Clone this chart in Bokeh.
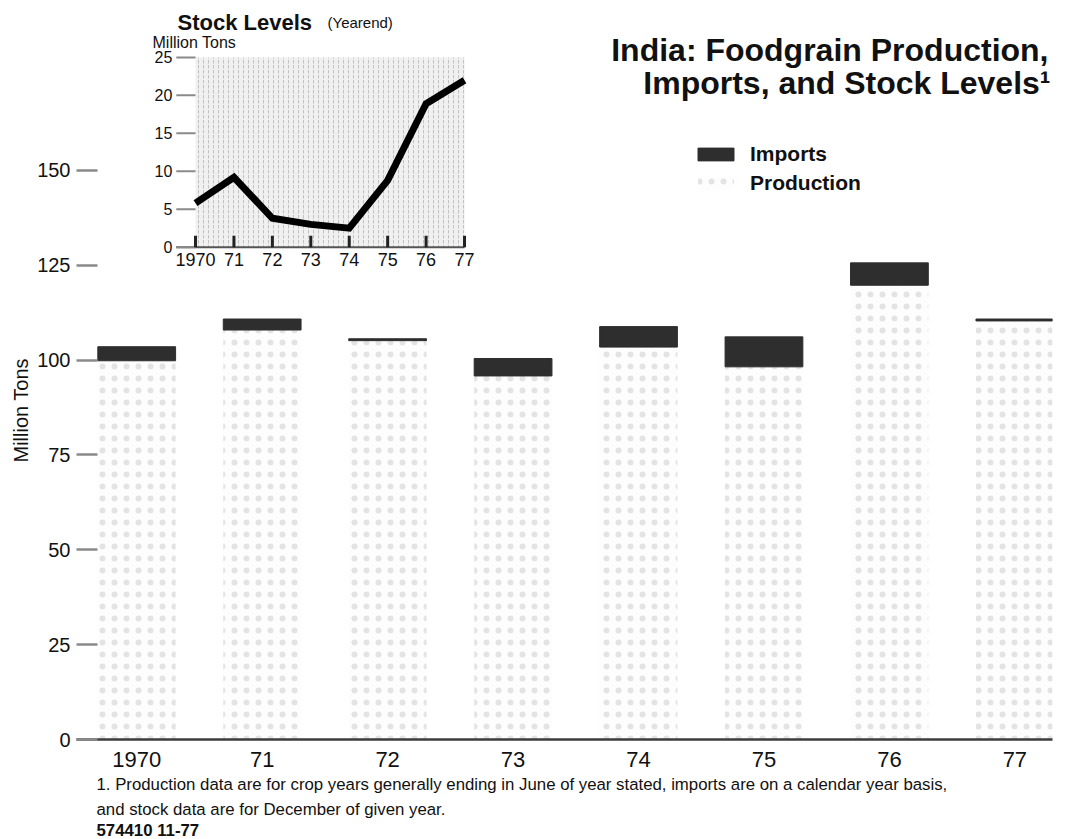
from bokeh.plotting import figure
from bokeh.models import (Range1d, FixedTicker, Label, Legend, LegendItem, Title,
                          ColumnDataSource)
from bokeh.core.properties import value
from bokeh.embed import file_html
from bokeh.resources import INLINE

# ---------------- data ----------------
years = [1970, 1971, 1972, 1973, 1974, 1975, 1976, 1977]
year_labels = ["1970", "71", "72", "73", "74", "75", "76", "77"]
production = [99.8, 107.9, 105.1, 95.8, 103.4, 98.2, 119.7, 110.3]
imports = [3.7, 2.9, 0.5, 4.6, 5.4, 7.9, 5.9, 0.5]
main_ticks = [0, 25, 50, 75, 100, 125, 150]

stock = [5.8, 9.2, 3.8, 3.0, 2.5, 8.8, 18.9, 22.0]
stock_ticks = [0, 5, 10, 15, 20, 25]

footnotes = [
    "1. Production data are for crop years generally ending in June of year stated, imports are on a calendar year basis,",
    "and stock data are for December of given year.",
    "574410  11-77",
]

FONT = "Liberation Sans"
INK = "#111111"

X0, X1 = 1969.52, 1977.30
p = figure(width=1065, height=839, output_backend="svg", toolbar_location=None,
           x_range=Range1d(X0, X1), y_range=Range1d(0, 192.1),
           min_border_left=76, min_border_right=13, min_border_top=10,
           min_border_bottom=99)
p.outline_line_color = None
p.grid.visible = False
p.background_fill_color = "white"
p.border_fill_color = "white"

# inset coordinate system (stock levels) inside the same frame
p.extra_x_ranges = {"ix": Range1d(1966.903, 1992.30)}
p.extra_y_ranges = {"iy": Range1d(-64.87, 31.18)}

# ---------------- axes ----------------
xa = p.xaxis[0]
xa.ticker = FixedTicker(ticks=years)
xa.major_label_overrides = {y: l for y, l in zip(years, year_labels)}
xa.axis_line_color = "#3c3c3c"
xa.axis_line_width = 2.5
xa.major_tick_line_color = None
xa.minor_tick_line_color = None
xa.major_label_standoff = 6
xa.major_label_text_font = FONT
xa.major_label_text_font_size = "22px"
xa.major_label_text_color = INK

ya = p.yaxis[0]
ya.ticker = FixedTicker(ticks=main_ticks)
ya.axis_line_color = None
ya.major_tick_in = 21
ya.major_tick_out = 0
ya.major_tick_line_color = "#8a8a8a"
ya.major_tick_line_width = 2.5
ya.minor_tick_line_color = None
ya.major_label_standoff = 6
ya.major_label_text_font = FONT
ya.major_label_text_font_size = "20px"
ya.major_label_text_color = INK

# y axis title (vertical), offset along the axis as in the reference
p.add_layout(Title(text="Million Tons", align="left", offset=277, standoff=6,
                   text_font=FONT, text_font_size="20px", text_font_style="normal",
                   text_color=INK), "left")

# ---------------- main bars ----------------
src = ColumnDataSource(dict(
    year=years, prod=production,
    total=[a + b for a, b in zip(production, imports)]))
prod_r = p.vbar(x="year", width=0.62, bottom=0, top="prod", source=src,
                fill_color="#fdfdfd", line_color=None,
                hatch_pattern="dot", hatch_color="#e3e3e3", hatch_scale=12,
                hatch_weight=0.7)
imp_r = p.vbar(x="year", width=0.62, bottom="prod", top="total", source=src,
               fill_color="#2e2e2e", line_color="#2e2e2e", line_width=1)

# ---------------- inset: stock levels ----------------
p.quad(left=years[0], right=years[-1], bottom=stock_ticks[0], top=stock_ticks[-1],
       x_range_name="ix", y_range_name="iy",
       fill_color="#f0f0f0", line_color=None,
       hatch_pattern="vertical_dash", hatch_color="#c2c2c2", hatch_scale=5,
       hatch_weight=1)
p.segment(x0=[years[0] - 0.5], y0=[stock_ticks[0]], x1=[years[-1]], y1=[stock_ticks[0]],
          x_range_name="ix", y_range_name="iy", line_color="#555555", line_width=2)
p.segment(x0=[years[0] - 0.5] * len(stock_ticks), y0=stock_ticks,
          x1=[years[0]] * len(stock_ticks), y1=stock_ticks,
          x_range_name="ix", y_range_name="iy", line_color="#8a8a8a", line_width=2)
p.text(x=[years[0] - 0.5] * len(stock_ticks), y=stock_ticks,
       text=[str(t) for t in stock_ticks], x_range_name="ix", y_range_name="iy",
       x_offset=-4, text_align="right", text_baseline="middle",
       text_font=value(FONT), text_font_size="16px", text_color=INK)
p.segment(x0=years, y0=[0] * len(years), x1=years, y1=[1.5] * len(years),
          x_range_name="ix", y_range_name="iy", line_color="#222222", line_width=3)
p.text(x=years, y=[0] * len(years), text=year_labels, x_range_name="ix",
       y_range_name="iy", y_offset=6, text_align="center", text_baseline="top",
       text_font=value(FONT), text_font_size="18px", text_color=INK)
p.line(x=years, y=stock, x_range_name="ix", y_range_name="iy",
       line_color="black", line_width=7, line_join="miter")

p.add_layout(Label(x=1969.532, y=29.6, x_range_name="ix", y_range_name="iy",
                   text="Stock Levels", text_font=FONT, text_font_size="22px",
                   text_font_style="bold", text_baseline="alphabetic",
                   text_color=INK))
p.add_layout(Label(x=1973.435, y=29.6, x_range_name="ix", y_range_name="iy",
                   text="(Yearend)", text_font=FONT, text_font_size="15px",
                   text_baseline="alphabetic", text_color=INK))
p.add_layout(Label(x=1968.881, y=26.9, x_range_name="ix", y_range_name="iy",
                   text="Million Tons", text_font=FONT, text_font_size="16px",
                   text_baseline="alphabetic", text_color=INK))

# ---------------- title ----------------
p.add_layout(Label(x=X1, y=181.8, x_offset=-4, text="India: Foodgrain Production,",
                   text_font=FONT, text_font_size="32px", text_font_style="bold",
                   text_align="right", text_baseline="alphabetic", text_color=INK))
p.add_layout(Label(x=X1, y=173.1, x_offset=-2, text="Imports, and Stock Levels\u00b9",
                   text_font=FONT, text_font_size="32px", text_font_style="bold",
                   text_align="right", text_baseline="alphabetic", text_color=INK))

# ---------------- legend ----------------
legend = Legend(items=[LegendItem(label="Imports", renderers=[imp_r]),
                       LegendItem(label="Production", renderers=[prod_r])],
                location=(617, 544), orientation="vertical",
                glyph_width=45, glyph_height=16, label_standoff=12,
                label_height=24, spacing=5, padding=0, margin=0,
                label_text_font=FONT, label_text_font_size="21px",
                label_text_font_style="bold", label_text_color=INK,
                border_line_color=None, background_fill_alpha=0)
p.add_layout(legend)

# ---------------- footnotes (below the axis) ----------------
for i, t in enumerate(footnotes):
    p.add_layout(Title(text=t, align="left", offset=20, standoff=7 if i == 0 else 0,
                       text_font=FONT, text_font_size="16.8px",
                       text_font_style="bold" if i == 2 else "normal",
                       text_color=INK), "below")

open("out.html", "w").write(file_html(p, INLINE))
